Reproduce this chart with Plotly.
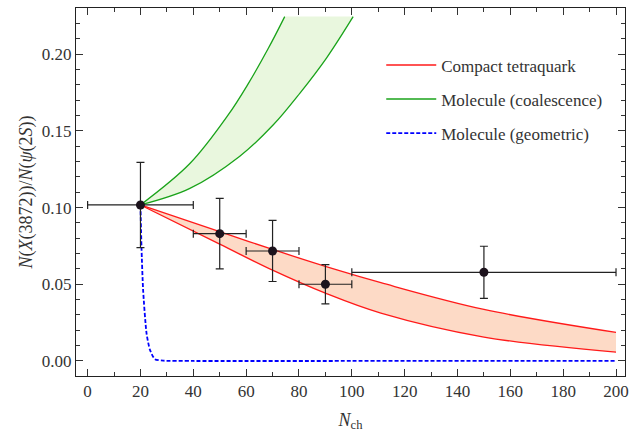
import plotly.graph_objects as go

# ---- data ----
pt_x = [20, 50, 70, 90, 150]
pt_y = [0.1017, 0.083, 0.0717, 0.050, 0.0578]
pt_xerr_minus = [20, 10, 10, 10, 50]
pt_xerr_plus = [20, 10, 10, 10, 50]
pt_yerr = [0.0278, 0.023, 0.0199, 0.0128, 0.0170]

red_up_x = [20, 50, 70, 95, 111, 150, 200]
red_up_y = [0.1017, 0.0843, 0.0727, 0.0590, 0.0510, 0.0336, 0.0186]
red_lo_x = [20, 50, 70, 90, 111, 150, 200]
red_lo_y = [0.1017, 0.0762, 0.0592, 0.0442, 0.0312, 0.0156, 0.0057]

grn_up_x = [20, 38.7, 53.2, 60.7, 68.3, 74.6]
grn_up_y = [0.1017, 0.1287, 0.1604, 0.1805, 0.2035, 0.2245]
grn_lo_x = [20, 38.7, 57.6, 70.2, 80.3, 90.4, 100.5]
grn_lo_y = [0.1017, 0.1125, 0.1335, 0.1538, 0.1745, 0.1975, 0.2245]

blu_x = [20, 20.4, 21.0, 22.3, 23.6, 25.5, 28.6, 40, 100, 200]
blu_y = [0.1017, 0.0735, 0.0463, 0.018, 0.0072, 0.0011, 0.0002, 0.0, 0.0, 0.0]

x_ticks = [0, 20, 40, 60, 80, 100, 120, 140, 160, 180, 200]
y_ticks = [0.00, 0.05, 0.10, 0.15, 0.20]
y_tick_text = ["0.00", "0.05", "0.10", "0.15", "0.20"]

legend_names = ["Compact tetraquark", "Molecule (coalescence)", "Molecule (geometric)"]

FONT = "Liberation Serif, Times New Roman, DejaVu Serif, serif"
RED = "#ff1a1a"
GREEN = "#1aa31a"
BLUE = "#0000ff"

fig = go.Figure()

# red band
fig.add_trace(go.Scatter(x=red_lo_x, y=red_lo_y, mode="lines",
                         line=dict(color=RED, width=1.3, shape="spline"),
                         showlegend=False, hoverinfo="skip"))
fig.add_trace(go.Scatter(x=red_up_x, y=red_up_y, mode="lines",
                         line=dict(color=RED, width=1.3, shape="spline"),
                         fill="tonexty", fillcolor="rgba(253,218,198,1)",
                         showlegend=False))
# green band
fig.add_trace(go.Scatter(x=grn_lo_x, y=grn_lo_y, mode="lines",
                         line=dict(color=GREEN, width=1.3, shape="spline"),
                         showlegend=False, hoverinfo="skip"))
fig.add_trace(go.Scatter(x=grn_up_x, y=grn_up_y, mode="lines",
                         line=dict(color=GREEN, width=1.3, shape="spline"),
                         fill="tonexty", fillcolor="rgba(233,247,222,1)",
                         showlegend=False))
# blue dashed
fig.add_trace(go.Scatter(x=blu_x, y=blu_y, mode="lines",
                         line=dict(color=BLUE, width=1.8, dash="4px,2px", shape="spline", smoothing=0.6),
                         showlegend=False))
# data points
fig.add_trace(go.Scatter(x=pt_x, y=pt_y, mode="markers",
                         marker=dict(color="rgb(28,18,28)", size=9),
                         error_x=dict(type="data", array=pt_xerr_plus, arrayminus=pt_xerr_minus,
                                      color="#222", thickness=1.2, width=4),
                         error_y=dict(type="data", array=pt_yerr,
                                      color="#222", thickness=1.2, width=4),
                         showlegend=False))

# legend entries (line samples only)
for i, (nm, col, dash) in enumerate(zip(legend_names, [RED, GREEN, BLUE], ["solid", "solid", "4px,2px"])):
    fig.add_trace(go.Scatter(x=[None], y=[None], mode="lines", name=nm,
                             line=dict(color=col, width=1.8 if dash != "solid" else 1.5, dash=dash),
                             legendgroup=f"g{i}", legendrank=i + 1))

axis_common = dict(showline=True, linecolor="#222", linewidth=1.1, mirror="allticks",
                   ticks="inside", ticklen=7, tickwidth=1, tickcolor="#333",
                   showgrid=False, zeroline=False, automargin=False,
                   tickfont=dict(family=FONT, size=17, color="#333"))

fig.update_xaxes(range=[-4.4, 203.4], tickvals=x_ticks,
                 minor=dict(dtick=10, ticks="inside", ticklen=4, tickcolor="#333"),
                 title=dict(text="<i>N</i><sub>ch</sub>", font=dict(family=FONT, size=18, color="#333"), standoff=12),
                 **axis_common)
fig.update_yaxes(range=[-0.0098, 0.2301], tickvals=y_ticks, ticktext=y_tick_text,
                 minor=dict(dtick=0.01, ticks="inside", ticklen=4, tickcolor="#333"),
                 title=dict(text="<i>N</i>(<i>X</i>(3872))/<i>N</i>(<i>ψ</i>(2<i>S</i>))",
                            font=dict(family=FONT, size=18, color="#333"), standoff=4),
                 **axis_common)

fig.update_layout(
    width=629, height=436,
    margin=dict(l=76, r=4, t=8, b=60),
    plot_bgcolor="white", paper_bgcolor="white",
    legend=dict(x=0.556, y=0.893, xanchor="left", yanchor="top",
                font=dict(family=FONT, size=17, color="#333"),
                bgcolor="rgba(0,0,0,0)", tracegroupgap=9, itemwidth=50),
    font=dict(family=FONT),
)

fig.write_html("out.html", config={"displayModeBar": False},
               post_script="document.body.style.margin='0';document.body.style.overflow='hidden';")
